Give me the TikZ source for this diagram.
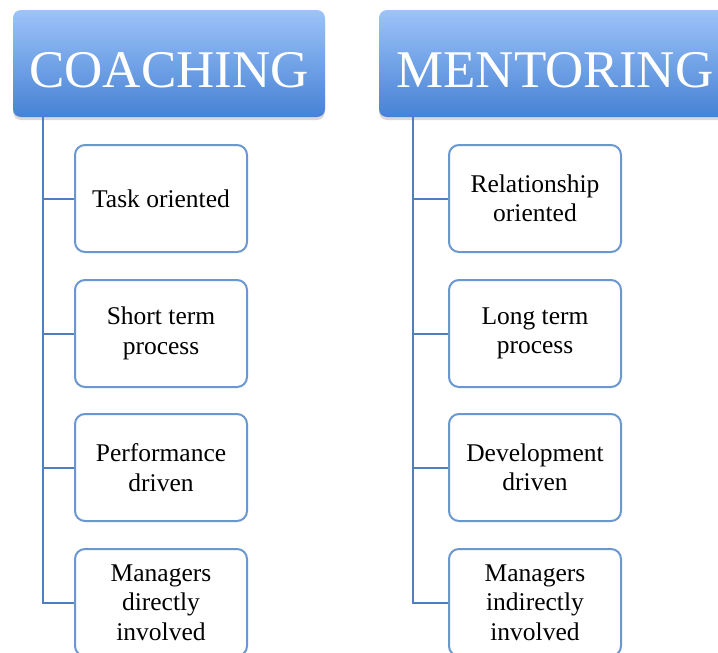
\documentclass[tikz,border=0pt]{standalone}
\usepackage{fontspec}
\setmainfont{Liberation Serif}
\usetikzlibrary{shadows}

\definecolor{headtop}{HTML}{9DC3F9}
\definecolor{headbot}{HTML}{4682D4}
\definecolor{linkblue}{HTML}{4F7FBF}
\definecolor{boxblue}{HTML}{6A97D0}

\tikzset{
  head/.style={rounded corners=8pt, top color=headtop, bottom color=headbot,
    text=white, font=\fontsize{53}{60}\selectfont, minimum height=107pt,
    text height=47pt, text depth=0pt,
    drop shadow={shadow xshift=0pt, shadow yshift=-3pt, opacity=0.3}},
  item/.style={draw=boxblue, line width=2pt, rounded corners=10pt, fill=white,
    minimum width=172pt, minimum height=107pt, align=center, text=black,
    font=\fontsize{25.5}{29.5}\selectfont},
  link/.style={draw=linkblue, line width=2pt}
}

\begin{document}
\begin{tikzpicture}[x=1pt, y=-1pt]
  \useasboundingbox (0,0) rectangle (718,653);

  \node[head, minimum width=312pt] (coach)  at (169, 63.5)   {COACHING};
  \node[head, minimum width=352pt] (mentor) at (555, 63.5)   {MENTORING};

  \node[item] (c1) at (161, 198.5) {Task oriented};
  \node[item] (c2) at (161, 333.5) {Short term\\process};
  \node[item] (c3) at (161, 467.5) {Performance\\driven};
  \node[item] (c4) at (161, 602.5) {Managers\\directly\\involved};

  \node[item] (m1) at (535, 198.5) {Relationship\\oriented};
  \node[item] (m2) at (535, 333.5) {Long term\\process};
  \node[item] (m3) at (535, 467.5) {Development\\driven};
  \node[item] (m4) at (535, 602.5) {Managers\\indirectly\\involved};

  \coordinate (c_root) at (43, 117);
  \coordinate (m_root) at (413, 117);

  % left tree
  \path[link]
    (c_root) |- (c1.west)
    (c_root) |- (c2.west)
    (c_root) |- (c3.west)
    (c_root) |- (c4.west);
  % right tree
  \path[link]
    (m_root) |- (m1.west)
    (m_root) |- (m2.west)
    (m_root) |- (m3.west)
    (m_root) |- (m4.west);
\end{tikzpicture}
\end{document}
